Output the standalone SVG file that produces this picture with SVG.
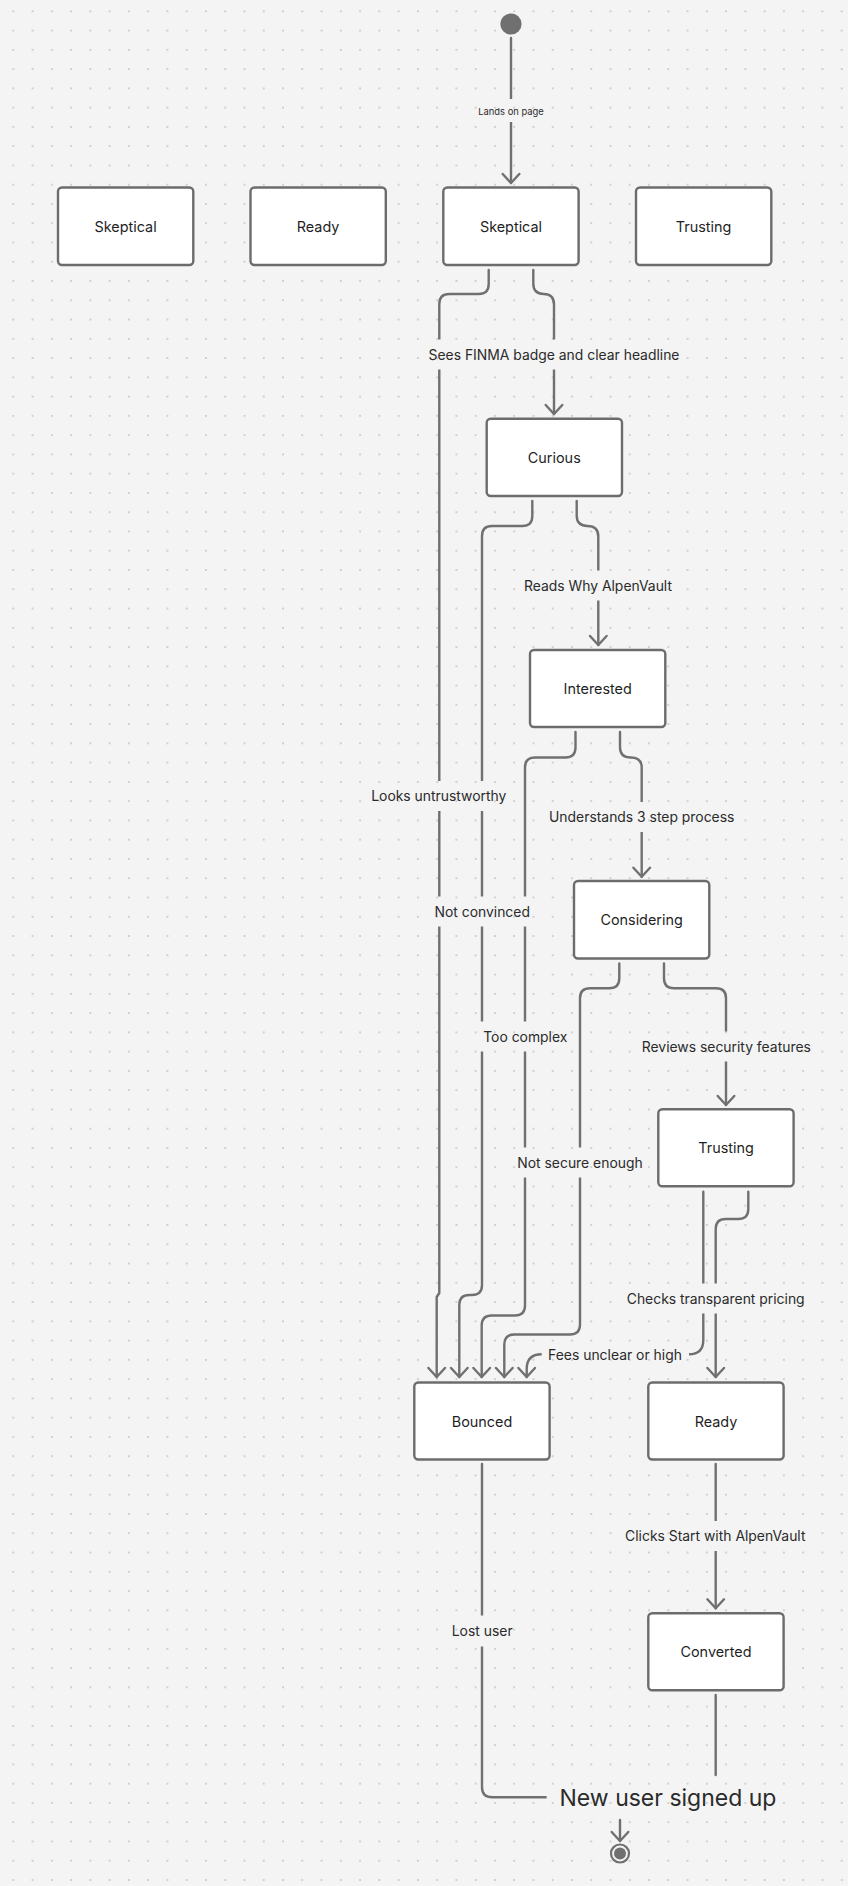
<svg xmlns="http://www.w3.org/2000/svg" width="848" height="1886" viewBox="0 0 848 1886">
<style>
.box{fill:#ffffff;stroke:#6c6c6c;stroke-width:2.4}
.nlabel{font-family:Inter,"Noto Sans","Liberation Sans",sans-serif;font-size:14.4px;fill:#1f1f1f;text-anchor:middle;dominant-baseline:central}
.elabel{font-family:Inter,"Noto Sans","Liberation Sans",sans-serif;font-size:13.9px;fill:#2b2b2b;text-anchor:middle;dominant-baseline:central}
.conn{fill:none;stroke:#707070;stroke-width:2.4;stroke-linecap:round;stroke-linejoin:round}
.arrow{marker-end:url(#arr)}
</style>
<defs>
<pattern id="dots" patternUnits="userSpaceOnUse" x="3.67" y="1.67" width="19.265" height="19.265">
<circle cx="9.63" cy="9.63" r="1.05" fill="#c6c6c6"/>
</pattern>
<marker id="arr" markerUnits="userSpaceOnUse" markerWidth="22" markerHeight="22" viewBox="0 0 22 22" refX="11" refY="11" orient="auto">
<path d="M2,2.7 L11,11 L2,19.3" fill="none" stroke="#707070" stroke-width="2.4" stroke-linecap="round" stroke-linejoin="round"/>
</marker>
<mask id="labelGaps" maskUnits="userSpaceOnUse" x="0" y="0" width="848" height="1886">
<rect x="0" y="0" width="848" height="1886" fill="#fff"/>
<rect x="477" y="99" width="68" height="23" fill="#000"/>
<rect x="421" y="339.5" width="266" height="30" fill="#000"/>
<rect x="516" y="570.5" width="164" height="30" fill="#000"/>
<rect x="541" y="802" width="202" height="30" fill="#000"/>
<rect x="363" y="781" width="152" height="30" fill="#000"/>
<rect x="428" y="896.5" width="109" height="30" fill="#000"/>
<rect x="476.5" y="1021.5" width="98" height="30" fill="#000"/>
<rect x="510" y="1147.5" width="140" height="30" fill="#000"/>
<rect x="634" y="1031.5" width="185" height="30" fill="#000"/>
<rect x="619" y="1283.5" width="193" height="30" fill="#000"/>
<rect x="541.7" y="1341" width="147.3" height="27" fill="#000"/>
<rect x="617" y="1521" width="197" height="30" fill="#000"/>
<rect x="445" y="1615.5" width="74" height="31" fill="#000"/>
</mask>
</defs>
<rect x="0" y="0" width="848" height="1886" fill="#f4f4f4"/>
<rect x="0" y="0" width="848" height="1886" fill="url(#dots)"/>

<g id="connectors" mask="url(#labelGaps)">
<path id="e-start-skeptical" class="conn arrow" d="M511,38 V183"/>
<path id="e-skeptical-curious" class="conn arrow" d="M533.3,270 V283.6 Q533.3,294 543.65,294 Q554,294 554,304.4 V414"/>
<path id="e-skeptical-bounced" class="conn arrow" d="M488.7,270 V284 Q488.7,294 478.7,294 H449.3 Q439.3,294 439.3,304 V1293 L436.7,1297 V1377"/>
<path id="e-curious-interested" class="conn arrow" d="M576.7,501 V515.6 Q576.7,526 587.5,526 Q598.3,526 598.3,536.4 V645"/>
<path id="e-curious-bounced" class="conn arrow" d="M532.3,501 V516 Q532.3,526 522.3,526 H492 Q482,526 482,536 V1285 Q482,1295 472,1295 H469.3 Q459.3,1295 459.3,1305 V1377"/>
<path id="e-interested-considering" class="conn arrow" d="M620,732 V747.2 Q620,757.5 630.85,757.5 Q641.7,757.5 641.7,767.8 V876.7"/>
<path id="e-interested-bounced" class="conn arrow" d="M575.5,732 V747.5 Q575.5,757.5 565.5,757.5 H535 Q525,757.5 525,767.5 V1305.5 Q525,1315.5 515,1315.5 H491.7 Q481.7,1315.5 481.7,1325.5 V1377"/>
<path id="e-considering-trusting" class="conn arrow" d="M664,963.5 V978.3 Q664,988.3 674,988.3 H716 Q726,988.3 726,998.3 V1105"/>
<path id="e-considering-bounced" class="conn arrow" d="M619.3,963.5 V978.3 Q619.3,988.3 609.3,988.3 H590 Q580,988.3 580,998.3 V1324.5 Q580,1334.5 570,1334.5 H514.3 Q504.3,1334.5 504.3,1344.5 V1377"/>
<path id="e-trusting-ready" class="conn arrow" d="M748.3,1191.7 V1209 Q748.3,1219 738.3,1219 H725.7 Q715.7,1219 715.7,1229 V1377"/>
<path id="e-trusting-bounced" class="conn arrow" d="M703.3,1191.7 V1340 Q703.3,1354.3 689,1354.3 H541.7 Q526.7,1354.3 526.7,1369 V1377"/>
<path id="e-ready-converted" class="conn arrow" d="M715.7,1464 V1608.3"/>
<path id="e-bounced-end" class="conn" d="M482,1464 V1787 Q482,1797.3 492.3,1797.3 H545.7"/>
<path id="e-converted-end" class="conn" d="M715.7,1695 V1775"/>
<path id="e-label-end" class="conn arrow" d="M620,1820 V1841"/>
</g>

<g id="edge-labels">
<text class="elabel" x="511" y="111" style="font-size:9.4px">Lands on page</text>
<text class="elabel" x="554" y="354.5">Sees FINMA badge and clear headline</text>
<text class="elabel" x="598" y="585.8">Reads Why AlpenVault</text>
<text class="elabel" x="641.7" y="817.2">Understands 3 step process</text>
<text class="elabel" x="438.8" y="796.3">Looks untrustworthy</text>
<text class="elabel" x="482.2" y="912.2">Not convinced</text>
<text class="elabel" x="525.3" y="1037.2">Too complex</text>
<text class="elabel" x="580" y="1162.8">Not secure enough</text>
<text class="elabel" x="726.3" y="1046.7">Reviews security features</text>
<text class="elabel" x="715.7" y="1298.7">Checks transparent pricing</text>
<text class="elabel" x="615" y="1354.7">Fees unclear or high</text>
<text class="elabel" x="715.3" y="1536.2">Clicks Start with AlpenVault</text>
<text class="elabel" x="482.2" y="1631.2">Lost user</text>
<text class="elabel" x="668" y="1797.8" style="font-size:23px">New user signed up</text>
</g>

<g id="n-start"><circle cx="511" cy="24" r="10.6" fill="#707070"/></g>
<g id="n-skeptical-1"><rect class="box" x="58" y="187.5" width="135.3" height="77.5" rx="4"/><text class="nlabel" x="125.6" y="226.3">Skeptical</text></g>
<g id="n-ready-1"><rect class="box" x="250.5" y="187.5" width="135.3" height="77.5" rx="4"/><text class="nlabel" x="318.1" y="226.3">Ready</text></g>
<g id="n-skeptical-2"><rect class="box" x="443.3" y="187.5" width="135.3" height="77.5" rx="4"/><text class="nlabel" x="511" y="226.3">Skeptical</text></g>
<g id="n-trusting-1"><rect class="box" x="636" y="187.5" width="135.3" height="77.5" rx="4"/><text class="nlabel" x="703.6" y="226.3">Trusting</text></g>
<g id="n-curious"><rect class="box" x="486.7" y="418.7" width="135.3" height="77.3" rx="4"/><text class="nlabel" x="554.3" y="457.4">Curious</text></g>
<g id="n-interested"><rect class="box" x="530" y="650" width="135.3" height="77" rx="4"/><text class="nlabel" x="597.7" y="688.5">Interested</text></g>
<g id="n-considering"><rect class="box" x="574" y="881" width="135.3" height="77.5" rx="4"/><text class="nlabel" x="641.6" y="919.8">Considering</text></g>
<g id="n-trusting-2"><rect class="box" x="658.3" y="1109.3" width="135.3" height="76.9" rx="4"/><text class="nlabel" x="726" y="1147.8">Trusting</text></g>
<g id="n-bounced"><rect class="box" x="414.3" y="1382.5" width="135.3" height="77" rx="4"/><text class="nlabel" x="482" y="1421">Bounced</text></g>
<g id="n-ready-2"><rect class="box" x="648.3" y="1382.5" width="135.3" height="77" rx="4"/><text class="nlabel" x="716" y="1421">Ready</text></g>
<g id="n-converted"><rect class="box" x="648.3" y="1613.3" width="135.3" height="76.9" rx="4"/><text class="nlabel" x="716" y="1651.8">Converted</text></g>
<g id="n-end"><circle cx="620" cy="1853.5" r="9" fill="#f4f4f4" stroke="#707070" stroke-width="2.2"/><circle cx="620" cy="1853.5" r="6" fill="#707070"/></g>
</svg>
